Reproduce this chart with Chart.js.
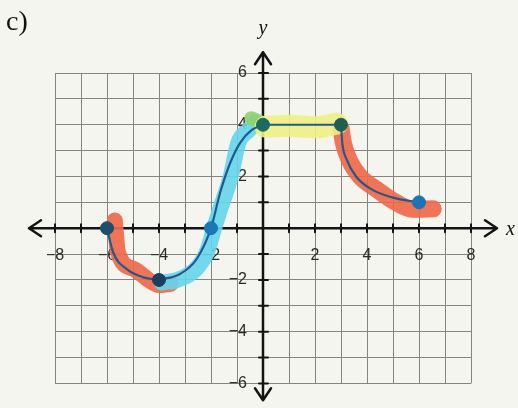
<!DOCTYPE html>
<html>
<head>
<meta charset="utf-8">
<script src="https://cdn.jsdelivr.net/npm/chart.js@4.4.1/dist/chart.umd.min.js"></script>
<style>
  body { margin: 0; background: #f5f5ef; }
  canvas { display: block; }
</style>
</head>
<body>
<canvas id="graphC" width="518" height="408"></canvas>
<script>
// the marked points of the graph
const keyX = [-6, -4, -2, 0, 3, 6];
const keyY = [0, -2, 0, 4, 4, 1];
const keyColors = ['#1f4d6e', '#1d3f5e', '#1878b8', '#1c6b62', '#1f5e55', '#1a74b5'];

// blue curve
const dipX = [-6, -5.76, -5.24, -4.6, -4];
const dipY = [0, -0.94, -1.58, -1.9, -2];
const riseX = [-4, -3.19, -2.55, -2, -1.65, -1.27, -0.88, -0.43, 0];
const riseY = [-2, -1.77, -1.19, 0, 1.37, 2.5, 3.3, 3.8, 4];
const flatX = [0, 3];
const flatY = [4, 4];
const fallX = [3, 3.05, 3.22, 3.58, 4.18, 5.0, 6];
const fallY = [4, 3.3, 2.65, 2.0, 1.5, 1.18, 1];

// highlighter strokes under the curve
const redLeftX = [-5.7, -5.58, -4.96, -4.4, -4.0, -3.55];
const redLeftY = [0.3, -0.93, -1.58, -2.0, -2.2, -2.15];
const cyanX = [-3.9, -3.3, -2.6, -2.15, -1.88, -1.65, -1.24, -0.95, -0.54, -0.3];
const cyanY = [-2.1, -2.0, -1.6, -0.9, 0, 0.73, 2.0, 3.3, 3.8, 4.1];
const yellowX = [0.1, 1.0, 2.0, 2.85];
const yellowY = [3.92, 3.96, 3.9, 4.04];
const greenX = [-0.45, -0.1];
const greenY = [4.25, 4.1];
const redRightX = [3.0, 3.09, 3.31, 3.73, 4.37, 5.1, 5.78, 6.55];
const redRightY = [3.88, 3.3, 2.65, 2.0, 1.5, 1.0, 0.73, 0.75];

function toPts(xs, ys) {
  return xs.map((x, i) => ({ x: x, y: ys[i] }));
}

function tickText(v) {
  if (v === 0 || v % 2 !== 0) return '';
  return v < 0 ? '\u2212' + Math.abs(v) : String(v);
}

// y labels sit left of the axis line, so pad them on the right
function yTickText(v) {
  const s = tickText(v);
  return s ? s + '\u2003' : '';
}

function curve(xs, ys) {
  return {
    data: toPts(xs, ys),
    borderColor: '#1e5b8c',
    borderWidth: 2.2,
    pointRadius: 0,
    tension: 0.4,
    cubicInterpolationMode: 'monotone',
    order: 2
  };
}

function marker(xs, ys, color, width) {
  return {
    data: toPts(xs, ys),
    borderColor: color,
    borderWidth: width,
    borderCapStyle: 'round',
    borderJoinStyle: 'round',
    pointRadius: 0,
    tension: 0.4,
    cubicInterpolationMode: 'monotone',
    order: 3
  };
}

const axesPlugin = {
  id: 'axesArrows',
  beforeDatasetsDraw(chart) {
    const { ctx, scales: { x, y } } = chart;
    const x0 = x.getPixelForValue(0);
    const y0 = y.getPixelForValue(0);
    const left = x.getPixelForValue(-9), right = x.getPixelForValue(9);
    const top = y.getPixelForValue(6.8), bottom = y.getPixelForValue(-6.65);
    ctx.save();
    ctx.strokeStyle = '#141414';
    ctx.lineWidth = 2.5;
    ctx.lineCap = 'round';
    ctx.lineJoin = 'round';
    ctx.beginPath();
    ctx.moveTo(left, y0); ctx.lineTo(right, y0);
    ctx.moveTo(x0, top); ctx.lineTo(x0, bottom);
    ctx.moveTo(left + 12, y0 - 8); ctx.lineTo(left, y0); ctx.lineTo(left + 12, y0 + 8);
    ctx.moveTo(right - 12, y0 - 8); ctx.lineTo(right, y0); ctx.lineTo(right - 12, y0 + 8);
    ctx.moveTo(x0 - 8, top + 12); ctx.lineTo(x0, top); ctx.lineTo(x0 + 8, top + 12);
    ctx.moveTo(x0 - 8, bottom - 12); ctx.lineTo(x0, bottom); ctx.lineTo(x0 + 8, bottom - 12);
    ctx.stroke();
    // little tick marks across the axes
    ctx.lineWidth = 2;
    ctx.beginPath();
    for (let v = -8; v <= 8; v++) {
      if (v === 0) continue;
      const px = x.getPixelForValue(v);
      ctx.moveTo(px, y0 - 4); ctx.lineTo(px, y0 + 4);
    }
    for (let v = -6; v <= 6; v++) {
      if (v === 0) continue;
      const py = y.getPixelForValue(v);
      ctx.moveTo(x0 - 4, py); ctx.lineTo(x0 + 5, py);
    }
    ctx.stroke();
    ctx.restore();
  },
  afterDraw(chart) {
    const { ctx, scales: { x, y } } = chart;
    ctx.save();
    ctx.fillStyle = '#111';
    ctx.textBaseline = 'alphabetic';
    ctx.font = '28px "Liberation Serif"';
    ctx.fillText('c)', 6, 30);
    ctx.font = 'italic 20px "Liberation Serif"';
    ctx.textAlign = 'center';
    ctx.fillText('y', x.getPixelForValue(0), 34);
    ctx.textAlign = 'left';
    ctx.fillText('x', 506, y.getPixelForValue(0) + 7);
    ctx.restore();
  }
};

const tickFont = { family: 'Liberation Sans', size: 16 };

new Chart(document.getElementById('graphC'), {
  type: 'line',
  data: {
    datasets: [
      marker(yellowX, yellowY, 'rgba(240,240,130,0.9)', 22),
      marker(greenX, greenY, 'rgba(140,212,105,0.9)', 14),
      marker(cyanX, cyanY, 'rgba(100,214,236,0.9)', 16),
      marker(redLeftX, redLeftY, 'rgba(240,104,74,0.92)', 16),
      marker(redRightX, redRightY, 'rgba(240,104,74,0.92)', 17),
      curve(dipX, dipY),
      curve(riseX, riseY),
      curve(flatX, flatY),
      curve(fallX, fallY),
      {
        data: toPts(keyX, keyY),
        showLine: false,
        pointRadius: 6.5,
        pointBackgroundColor: keyColors,
        pointBorderColor: keyColors,
        order: 1
      }
    ]
  },
  options: {
    responsive: false,
    animation: false,
    layout: { padding: { left: 55, right: 47, top: 73, bottom: 23 } },
    plugins: {
      legend: { display: false },
      tooltip: { enabled: false }
    },
    scales: {
      x: {
        type: 'linear',
        min: -8,
        max: 8,
        position: { y: 0 },
        border: { display: false },
        grid: { color: '#85857c', lineWidth: 1, drawTicks: false },
        ticks: {
          stepSize: 1,
          autoSkip: false,
          maxRotation: 0,
          padding: 18,
          color: '#2a2a2a',
          font: tickFont,
          callback: tickText
        }
      },
      y: {
        type: 'linear',
        min: -6,
        max: 6,
        position: { x: 0 },
        border: { display: false },
        grid: { color: '#85857c', lineWidth: 1, drawTicks: false },
        ticks: {
          stepSize: 1,
          autoSkip: false,
          padding: 15,
          color: '#2a2a2a',
          font: tickFont,
          callback: yTickText
        }
      }
    }
  },
  plugins: [axesPlugin]
});
</script>
</body>
</html>
